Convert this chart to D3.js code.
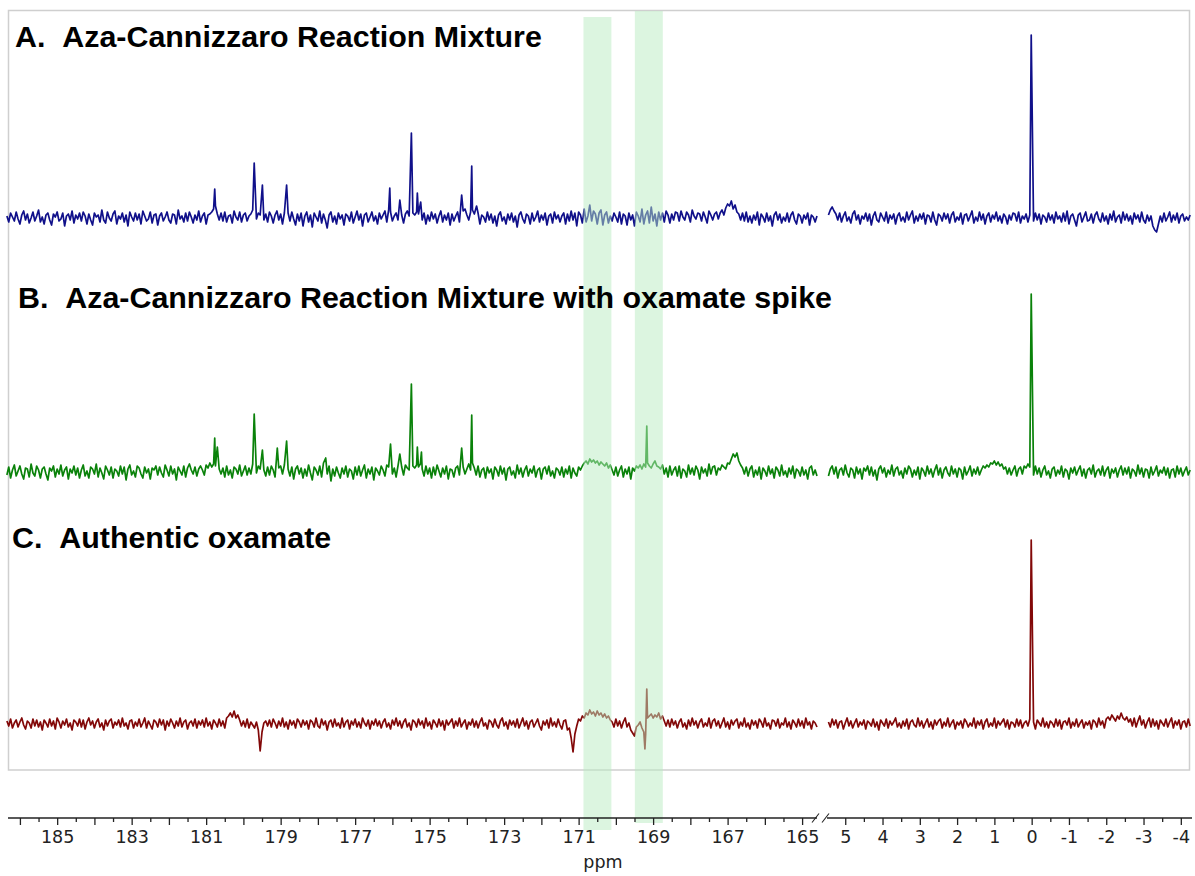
<!DOCTYPE html>
<html><head><meta charset="utf-8">
<script src="https://cdn.jsdelivr.net/npm/d3@7"></script>
<style>body{margin:0;background:#fff}svg{display:block}</style>
</head><body><svg id="c" width="1195" height="876"></svg>
<script>
// ---------------- DATA ----------------
const panelLabels = [
  "A.\u00a0\u00a0Aza-Cannizzaro Reaction Mixture",
  "B.\u00a0\u00a0Aza-Cannizzaro Reaction Mixture with oxamate spike",
  "C.\u00a0\u00a0Authentic oxamate"
];
const panelColors = ["#10108a", "#0a820a", "#820808"];
// uniform sampling of each segment (ppm)
const leftStartPpm = 186.35, rightStartPpm = 5.45, samplePpmStep = 0.05;

const noiseA_left = [
 2,-4,5,1,-3,6,-1,-6,3,7,-2,4,-5,0,6,-3,2,8,-4,1,
 -6,3,5,-2,-7,4,1,6,-3,-1,5,-8,2,4,-2,7,-5,3,-1,5,
 -3,6,2,-6,4,-2,-7,5,1,3,-4,8,-2,-5,6,0,-3,4,7,-6,
 2,-1,5,-4,3,-8,6,1,-3,5,-2,4,-6,7,2,-3,-1,6,-5,3,
 4,-7,2,5,-3,1,6,-2,-5,4,3,-6,8,-1,2,-4,5,-3,6,1,
 -5,3,-2,7,-4,2,5,-6,3,4,6,9,12,4,-2,5,-3,6,-4,2,
 3,-5,7,1,-2,6,-4,3,5,-3,2,4,8,6,-1,5,3,7,-2,4,
 -4,6,2,-5,3,7,-2,4,-6,5,9,5,-3,6,-1,-7,4,-3,5,-8,
 2,6,-4,3,-9,5,1,-3,7,-5,4,-2,-10,3,6,-4,2,-6,5,-1,
 3,-7,4,2,-3,6,-5,1,7,-2,4,-8,3,5,-4,1,6,-3,2,-6,
 5,-1,3,7,-4,8,6,-3,2,5,-2,6,3,-5,4,7,2,9,5,3,
 6,4,8,-2,5,-6,3,-3,6,-1,4,-5,2,7,-4,3,-2,5,-7,4,
 -3,2,6,-4,5,7,9,3,-2,6,8,4,-3,5,-6,3,1,-4,6,-2,
 4,-5,2,-8,3,6,-3,1,-6,4,-2,5,-4,2,-9,3,6,-1,-5,4,
 2,-6,5,-3,1,7,-4,3,-2,5,-7,2,4,-5,6,-1,3,-4,2,5,
 -6,4,-3,7,-2,5,-8,6,3,-5,9,-4,2,13,-3,7,4,-6,5,8,
 -7,3,6,-5,2,-3,5,1,-4,6,-6,4,2,-7,5,-2,3,-8,6,2,
 -4,9,-6,3,7,-5,11,-3,4,-8,6,-2,5,-4,7,3,-5,4,-2,6,
 5,-3,7,1,-2,6,3,-4,8,2,-1,5,4,-3,6,1,-5,7,3,-2,
 4,6,-1,5,8,3,10,14,12,17,9,13,6,4,-2,5,-3,6,-4,2,
 -5,3,-2,6,-7,4,1,-4,5,-3,2,-8,3,6,-2,4,-5,1,-3,5,
 -4,3,6,-2,-6,4,2,-5,3,-1,5,-7,3,1,-4,2
];
const noiseA_right = [
 3,8,11,7,4,-2,5,-4,2,6,-3,1,-5,4,7,-2,3,-6,2,-1,
 5,-3,4,-7,2,6,-2,-4,5,1,-3,6,-5,3,-1,4,-6,2,5,-3,
 1,-4,6,-2,3,7,-5,2,-3,4,-1,5,-6,3,2,-4,6,-2,-7,4,
 2,-3,5,-1,4,-5,3,6,-4,1,-2,5,-6,3,4,-3,2,7,-5,1,
 -3,6,-2,4,-6,2,5,-4,3,-1,6,-3,2,-5,4,1,-6,3,-2,5,
 4,-3,6,-5,2,-1,4,-4,3,2,-3,5,-2,4,-6,3,1,-4,5,-2,
 3,-5,6,-1,2,-4,5,-3,7,-6,2,4,-2,-8,3,5,-4,1,6,-3,
 -2,4,-5,3,6,-1,-4,5,-3,2,-6,4,-2,7,-4,1,3,-5,6,-2,
 4,-3,2,-6,5,-1,3,-4,6,-2,-5,3,-3,2,-8,-12,-14,-6,2,-4,
 5,-3,1,6,-4,3,-2,5,-5,2,4,-3,1,-2,3
];
const peaksA_left = [[180.77,29],[179.71,55],[179.49,33],[178.84,33],[176.07,30],[175.80,18],
  [175.49,85],[175.33,25],[175.24,16],[174.14,23],[173.87,52],[173.74,12]];
const peaksA_right = [[0.012,183]];

const noiseB_left = [
 -3,5,-6,2,7,-4,1,6,-2,-7,4,3,-5,8,-1,-4,6,2,-6,3,
 5,-2,-8,4,1,6,-5,3,-2,7,-4,2,5,-7,3,-1,6,-3,4,-6,
 2,7,-4,1,-6,5,3,-2,8,-5,4,-1,-7,6,2,-3,5,-6,3,1,
 -4,6,-2,5,-8,3,7,-3,1,-5,6,4,-2,-6,5,-1,3,-7,4,2,
 6,-3,5,-1,-5,7,2,-4,6,-2,3,-8,5,1,-3,6,-5,4,8,2,
 -2,5,-4,3,6,2,-3,7,4,9,5,8,6,12,3,-2,4,-5,6,-3,
 2,-6,5,3,-2,7,-4,1,6,-3,4,-2,8,5,-1,6,3,7,2,-4,
 5,-3,6,2,-5,8,4,6,-2,7,9,3,-4,5,-7,3,6,-2,4,-6,
 3,-4,7,-1,-8,5,2,-3,6,-5,9,4,-2,6,-9,3,-4,5,-1,-6,
 4,-2,6,-5,3,1,-7,5,-3,6,-4,2,7,-6,3,-2,5,-8,4,1,
 -3,6,2,-4,7,5,8,-2,4,-5,6,3,5,-3,7,4,2,9,6,4,
 7,5,8,3,-4,6,-2,4,-6,5,-3,7,1,-5,4,-2,6,-7,3,2,
 -5,4,6,-3,7,5,-2,3,8,2,9,4,-3,6,-5,2,4,-6,5,-1,
 3,-7,5,2,-4,6,-2,4,-8,3,5,-3,1,-6,7,-2,4,-5,2,6,
 -4,3,-1,6,-5,2,4,-7,3,5,-2,6,-4,1,-6,4,2,-3,5,-5,
 3,-2,6,-6,4,-1,-4,5,2,6,9,11,8,13,10,12,9,11,7,10,
 8,6,9,4,7,2,-3,5,-4,2,6,-5,3,-2,5,-7,4,1,6,4,
 7,3,8,5,9,6,4,8,11,6,5,3,7,-2,4,-5,6,-3,2,5,
 -4,6,-6,3,1,-5,7,-2,4,-3,6,2,-7,5,-1,3,-4,8,-2,5,
 6,-3,4,2,7,5,3,9,8,13,18,15,19,11,7,4,-2,5,-4,3,
 6,-5,2,-3,5,-7,4,1,-4,6,-2,3,-6,5,2,-4,7,-3,1,-5,
 4,-2,6,-6,3,1,-4,5,-3,2,-7,4,6,-3,2,-4
];
const noiseB_right = [
 -4,3,6,-2,5,-6,2,4,-3,7,-1,-5,4,2,-6,5,-2,3,-7,4,
 1,6,-3,5,-4,2,-8,3,6,-1,4,-5,2,-2,7,-4,3,5,-3,1,
 -6,4,-2,6,3,-5,2,-3,5,-7,4,1,-4,6,-2,3,-5,2,7,-3,
 4,-6,2,5,-1,-4,6,-2,3,-5,4,2,-7,5,-3,1,6,-4,3,-2,
 5,-3,2,6,4,7,5,9,8,11,7,10,6,8,3,5,-2,4,-3,2,
 6,-4,3,5,-2,6,4,8,5,3,-3,6,-2,4,-5,2,6,-3,1,-6,
 3,5,-4,2,-2,6,-5,3,1,-7,4,-1,5,-3,2,6,-4,3,-6,2,
 4,-2,7,-5,1,3,-3,6,-4,2,5,-6,3,-1,4,-5,2,6,-3,4,
 -2,5,-6,3,1,-4,7,-2,4,-5,3,2,-6,5,-3,1,6,-4,2,-1,
 5,-3,4,-6,2,3,-5,6,-2,4,-4,1,5,-3,2
];
const peaksB_left = [[180.77,34],[180.70,25],[179.71,58],[179.49,22],[179.09,24],[178.84,31],
  [177.79,14],[176.05,28],[175.80,18],[175.49,88],[175.33,25],[175.22,20],[174.14,24],
  [173.87,57],[169.17,46]];
const peaksB_right = [[0.012,178]];

const noiseC_left = [
 3,-2,5,-4,1,4,-3,2,6,-1,-5,3,1,-4,5,-2,4,-3,2,-6,
 4,1,-3,5,-2,3,-5,6,2,-4,3,-1,5,-3,1,-6,4,2,-2,5,
 -3,4,-5,2,6,-1,3,-4,2,5,-3,1,-6,4,-2,3,5,-4,2,-1,
 4,-3,6,-2,1,-5,3,4,-4,2,-2,5,-3,1,6,-4,3,-1,-5,4,
 2,-3,5,-1,4,-6,3,-2,5,1,-4,3,-2,6,-3,2,4,-5,1,3,
 -2,5,-4,3,-1,4,-3,6,-2,2,-5,4,1,-3,5,-2,3,-4,6,8,
 11,7,13,6,9,4,-2,3,-3,5,-4,2,-1,-4,2,-6,-27,-8,1,3,
 -2,4,-3,5,1,-4,3,-2,6,-3,2,-5,4,-1,3,-4,5,2,-3,4,
 -1,3,-5,4,2,-3,6,-2,-4,5,-1,3,-6,2,4,-3,5,-2,1,-4,
 6,-3,2,4,-5,3,-1,5,-3,2,-4,6,1,-2,4,-5,3,-1,5,-2,
 3,-4,2,5,-3,1,-5,4,-1,6,-2,3,-4,2,5,-3,1,-6,4,2,
 -3,5,-1,3,-4,6,-2,2,-5,4,1,-3,5,-2,3,-6,4,-1,2,5,
 -4,3,-2,6,-3,1,4,-5,2,-1,5,-3,3,-4,2,6,-2,1,-5,4,
 2,-3,5,-1,-4,3,6,-2,2,-5,4,-1,3,-3,5,-4,1,6,-2,3,
 -5,2,4,-3,1,5,-2,-6,3,-1,4,-4,6,-2,2,-3,5,-1,-5,3,
 4,-6,-4,-14,-28,-10,-2,5,3,8,6,11,9,14,10,12,8,13,9,11,
 7,10,6,8,4,2,-3,5,-2,3,-4,2,6,-3,1,-6,-9,-12,-3,-1,
 2,-4,-8,-10,6,8,10,6,9,7,11,5,8,3,-2,4,-3,5,-1,3,
 -4,2,5,-3,1,-5,4,-2,6,-1,3,-4,2,5,-3,1,-2,6,-4,3,
 5,-2,3,-4,1,6,-3,2,-5,4,-1,3,5,-4,2,-2,6,-3,1,-5,
 4,-1,3,-4,5,2,-3,6,-2,1,-5,4,3,-2,5,-4,1,-1,6,-3,
 2,-5,4,1,-3,5,-2,3,-4,6,-1,2,-5,3,1,-3
];
const noiseC_right = [
 2,-3,5,-1,4,-4,2,3,-5,1,6,-2,3,-4,1,5,-3,2,-1,4,
 -5,3,1,-2,5,-3,2,-6,4,1,-2,5,-4,3,-1,2,6,-3,1,-4,
 3,-2,5,-5,2,4,-1,-3,6,-2,3,-4,1,5,-3,2,-5,4,-1,3,
 5,-4,2,-2,6,-3,1,4,-5,2,-1,3,-4,5,2,-3,1,-2,6,-4,
 3,-1,4,-5,2,5,-3,1,-2,6,-4,3,-1,2,5,-3,4,-5,2,1,
 -3,5,-2,4,-4,1,3,-2,5,-3,2,-5,4,1,-2,6,-3,2,-4,3,
 1,-3,5,-2,4,-5,2,3,-1,6,-4,2,-2,5,-3,1,4,-4,2,-1,
 3,-5,4,2,-3,6,-1,3,-4,5,7,4,9,6,3,8,5,11,6,4,
 7,2,5,-2,6,-3,3,8,-1,4,-4,2,6,-3,5,-2,3,-5,4,1,
 -2,5,-3,2,6,-4,3,-1,4,-5,2,3,-3,5,-2
];
const peaksC_left = [[169.22,-25],[169.17,35]];
const peaksC_right = [[0.012,184]];

const highlightRanges = [[170.87, 170.12], [169.49, 168.74]];
const leftTickLabels = [185, 183, 181, 179, 177, 175, 173, 171, 169, 167, 165];
const rightTickLabels = [5, 4, 3, 2, 1, 0, -1, -2, -3, -4];
const axisTitle = "ppm";

// ---------------- LAYOUT ----------------
const svg = d3.select("#c");
const xL = d3.scaleLinear().domain([186.32, 164.6]).range([8, 817]);
const xR = d3.scaleLinear().domain([5.65, -4.3]).range([821, 1192]);
const baselines = [218, 472, 724];
const axisY = 818;

const panels = [
  {L: noiseA_left, R: noiseA_right, pL: peaksA_left, pR: peaksA_right},
  {L: noiseB_left, R: noiseB_right, pL: peaksB_left, pR: peaksB_right},
  {L: noiseC_left, R: noiseC_right, pL: peaksC_left, pR: peaksC_right}
];

// frame
svg.append("rect").attr("x", 8.5).attr("y", 10.5).attr("width", 1181).attr("height", 759.5)
  .attr("fill", "none").attr("stroke", "#cfcfcf").attr("stroke-width", 1.5);

function series(noise, peaks, start) {
  const pts = noise.map((v, i) => ({ppm: start - i * samplePpmStep, v}))
    .filter(s => !peaks.some(p => Math.abs(p[0] - s.ppm) < 0.015));
  peaks.forEach(p => pts.push({ppm: p[0], v: p[1]}));
  pts.sort((a, b) => b.ppm - a.ppm);
  return pts;
}

panels.forEach((p, k) => {
  const y = d3.scaleLinear().domain([0, 200]).range([baselines[k], baselines[k] - 200]);
  const segs = [[series(p.L, p.pL, leftStartPpm), xL], [series(p.R, p.pR, rightStartPpm), xR]];
  segs.forEach(([pts, x]) => {
    const line = d3.line().x(d => x(d.ppm)).y(d => y(d.v));
    svg.append("path").attr("d", line(pts)).attr("fill", "none")
      .attr("stroke", panelColors[k]).attr("stroke-width", 1.7)
      .attr("stroke-linejoin", "round");
  });
});

// highlight bands
const bandY = [[17, 830], [11, 823]];
highlightRanges.forEach((r, i) => {
  svg.append("rect").attr("x", xL(r[0])).attr("width", xL(r[1]) - xL(r[0]))
    .attr("y", bandY[i][0]).attr("height", bandY[i][1] - bandY[i][0])
    .attr("fill", "rgb(185,235,193)").attr("fill-opacity", 0.5);
});

// panel labels
const labelPos = [[15, 47], [18, 308], [12, 548]];
panelLabels.forEach((t, i) => {
  svg.append("text").attr("x", labelPos[i][0]).attr("y", labelPos[i][1]).text(t)
    .attr("font-family", "Liberation Sans, Arial, sans-serif").attr("font-weight", "bold")
    .attr("font-size", 30.4).attr("fill", "#000");
});

// axes
function drawAxis(x, vals, labels) {
  const g = svg.append("g").attr("transform", `translate(0,${axisY})`)
    .call(d3.axisBottom(x).tickValues(vals).tickSize(7).tickPadding(6)
      .tickFormat(d => labels.includes(d) ? String(d) : ""));
  g.select(".domain").remove();
  g.selectAll(".tick line").attr("stroke", "#222").attr("stroke-width", 1.3)
    .attr("y2", d => Number.isInteger(d) ? 7 : 4);
  g.selectAll(".tick text").attr("font-family", "DejaVu Sans, sans-serif")
    .attr("font-size", 17.5).attr("fill", "#222");
}
drawAxis(xL, d3.range(186, 164.99, -0.5), leftTickLabels);
drawAxis(xR, d3.range(5, -4.01, -0.5), rightTickLabels);

const ax = svg.append("g").attr("stroke", "#222").attr("stroke-width", 1.3);
ax.append("line").attr("x1", 8).attr("x2", 817).attr("y1", axisY).attr("y2", axisY);
ax.append("line").attr("x1", 827).attr("x2", 1192).attr("y1", axisY).attr("y2", axisY);
[815.5, 825.5].forEach(cx => ax.append("line").attr("x1", cx - 3.5).attr("y1", axisY + 4.5)
  .attr("x2", cx + 3.5).attr("y2", axisY - 4.5).attr("stroke-width", 1.1));

svg.append("text").attr("x", 603).attr("y", 868).attr("text-anchor", "middle")
  .attr("font-family", "DejaVu Sans, sans-serif").attr("font-size", 17.5).attr("fill", "#222")
  .text(axisTitle);
</script></body></html>
